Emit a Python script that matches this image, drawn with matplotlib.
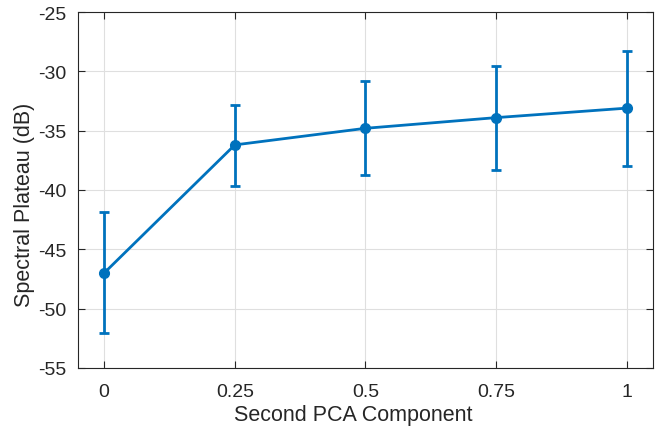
import matplotlib
matplotlib.use("Agg")
import matplotlib.pyplot as plt

# データ
pca2 = [0, 0.25, 0.5, 0.75, 1]
plateau = [-47.0, -36.2, -34.8, -33.9, -33.1]
err_top = [-41.85, -32.8, -30.8, -29.55, -28.3]
err_bot = [-52.05, -39.65, -38.75, -38.35, -37.95]
xticklabels = ["0", "0.25", "0.5", "0.75", "1"]

plt.rcParams["font.family"] = ["Liberation Sans", "DejaVu Sans"]
plt.rcParams["axes.unicode_minus"] = False

lower = [p - b for p, b in zip(plateau, err_bot)]
upper = [t - p for p, t in zip(plateau, err_top)]

fig = plt.figure(figsize=(6.71, 4.31), dpi=100)
ax = fig.add_axes([0.1162, 0.1439, 0.8570, 0.8259])

ax.errorbar(pca2, plateau, yerr=[lower, upper], color="#0072BD",
            linewidth=2, elinewidth=2, capsize=3.5, capthick=2,
            marker="o", markersize=7)

ax.set_xlim(-0.05, 1.05)
ax.set_ylim(-55, -25)
ax.set_xticks(pca2)
ax.set_xticklabels(xticklabels)
ax.set_yticks(range(-55, -24, 5))
ax.grid(True, color="#dfdfdf", linewidth=0.8)
ax.set_axisbelow(True)
ax.tick_params(direction="in", top=True, right=True, labelsize=14,
               colors="#262626", length=5)
ax.tick_params(axis="y", pad=8)
ax.tick_params(axis="x", pad=11)
for s in ax.spines.values():
    s.set_color("#262626")
    s.set_linewidth(0.8)

ax.set_xlabel("Second PCA Component", fontsize=15.5, color="#262626", labelpad=3)
ax.set_ylabel("Spectral Plateau (dB)", fontsize=15.5, color="#262626", labelpad=2.5)
ax.xaxis.label.set_x(0.478)
ax.yaxis.label.set_y(0.46)

fig.savefig("out.png", dpi=100)
